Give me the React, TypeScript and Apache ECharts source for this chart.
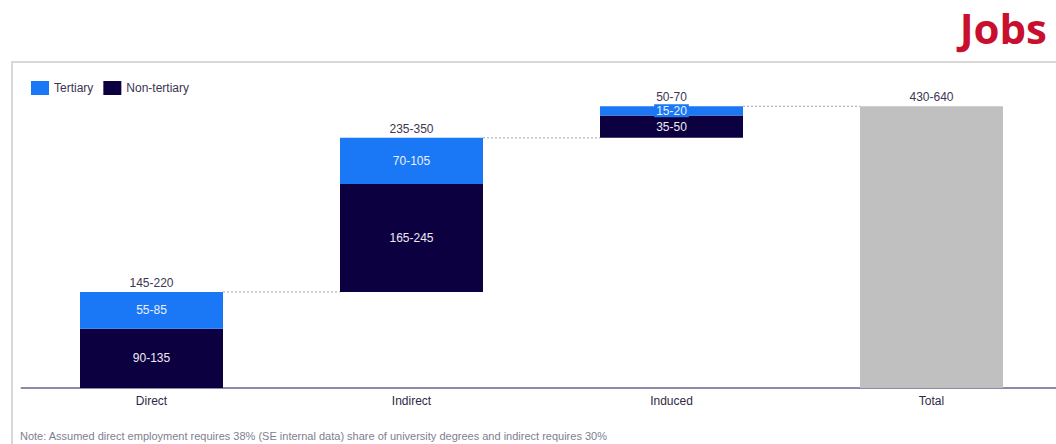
import React, { useEffect, useRef } from "react";
import * as echarts from "echarts";

const categories = ["Direct", "Indirect", "Induced", "Total"];
// midpoints of the ranges shown in the labels
const baseValues = [0, 182.5, 475, 0];
const nonTertiaryValues: (number | string)[] = [112.5, 205, 42.5, "-"];
const tertiaryValues: (number | string)[] = [70, 87.5, 17.5, "-"];
const totalValues: (number | string)[] = ["-", "-", "-", 535];
const nonTertiaryLabels = ["90-135", "165-245", "35-50", ""];
const tertiaryLabels = ["55-85", "70-105", "15-20", ""];
const topValues = [182.5, 475, 535, 535];
const topLabels = ["145-220", "235-350", "50-70", "430-640"];
const noteText =
  "Note: Assumed direct employment requires 38% (SE internal data) share of university degrees and indirect requires 30%";

const FONT = "'Liberation Sans', Arial, sans-serif";
const C_TER = "#1a78f6";
const C_NON = "#0c0040";
const C_TOT = "#c0c0c0";

export default function App() {
  const ref = useRef<HTMLDivElement>(null);
  useEffect(() => {
    document.body.style.margin = "0";
    document.body.style.overflow = "hidden";
    const chart = echarts.init(ref.current!, null, { renderer: "svg" });
    chart.setOption({
      animation: false,
      textStyle: { fontFamily: FONT },
      graphic: [
        {
          type: "rect",
          shape: { x: 12, y: 62, width: 1100, height: 500 },
          style: { fill: "none", stroke: "#d8d8d8", lineWidth: 2 },
          silent: true,
        },
        {
          type: "text",
          x: 1047,
          y: 6,
          style: {
            text: "Jobs",
            fill: "#c8102e",
            font: "bold 42px 'Open Sans', sans-serif",
            align: "right",
            verticalAlign: "top",
          },
        },
        {
          type: "text",
          left: 20,
          top: 430,
          style: {
            text: noteText,
            fill: "#7e7e90",
            font: `11px ${FONT}`,
          },
        },
      ],
      legend: {
        left: 26,
        top: 76,
        itemWidth: 18,
        itemHeight: 14,
        itemGap: 10,
        icon: "rect",
        data: ["Tertiary", "Non-tertiary"],
        textStyle: { color: "#3a3452", fontSize: 12, fontFamily: FONT },
      },
      grid: { left: 21.5, right: 4.5, top: 72, bottom: 56 },
      xAxis: {
        type: "category",
        data: categories,
        axisLine: { lineStyle: { color: "#8d89a8", width: 2 } },
        axisTick: { show: false },
        axisLabel: { color: "#2f2a45", fontSize: 12, margin: 7, fontFamily: FONT },
      },
      yAxis: {
        type: "value",
        min: 0,
        max: 600,
        show: false,
        splitLine: { show: false },
      },
      series: [
        {
          name: "base",
          type: "bar",
          stack: "a",
          barWidth: "55%",
          itemStyle: { color: "transparent" },
          silent: true,
          data: baseValues,
        },
        {
          name: "Non-tertiary",
          type: "bar",
          stack: "a",
          itemStyle: { color: C_NON },
          label: {
            show: true,
            position: "inside",
            color: "#ecebf4",
            fontSize: 12,
            fontFamily: FONT,
            formatter: (p: any) => nonTertiaryLabels[p.dataIndex],
          },
          data: nonTertiaryValues,
        },
        {
          name: "Tertiary",
          type: "bar",
          stack: "a",
          itemStyle: { color: C_TER },
          label: {
            show: true,
            position: "inside",
            color: "#ecf0fa",
            fontSize: 12,
            fontFamily: FONT,
            formatter: (p: any) => tertiaryLabels[p.dataIndex],
          },
          data: tertiaryValues.map((v, i) =>
            i === 2
              ? {
                  value: v,
                  label: { backgroundColor: C_TER, padding: [1, 2, 0, 2] },
                }
              : v
          ),
        },
        {
          name: "Total",
          type: "bar",
          stack: "a",
          itemStyle: { color: C_TOT },
          data: totalValues,
        },
        {
          name: "tops",
          type: "custom",
          z: 5,
          silent: true,
          data: topValues.map((v, i) => [i, v]),
          renderItem: (params: any, api: any) => {
            const i = api.value(0);
            const top = api.value(1);
            const p = api.coord([i, top]);
            const band = api.size([1, 0])[0];
            const children: any[] = [
              {
                type: "text",
                x: p[0],
                y: p[1] - 3,
                style: {
                  text: topLabels[params.dataIndex],
                  fill: "#3d3654",
                  font: `12px ${FONT}`,
                  align: "center",
                  verticalAlign: "bottom",
                },
              },
            ];
            if (i < categories.length - 1) {
              children.push({
                type: "line",
                shape: {
                  x1: p[0] + band * 0.275,
                  y1: p[1],
                  x2: p[0] + band * 0.725,
                  y2: p[1],
                },
                style: { stroke: "#a4a4ac", lineWidth: 1, lineDash: [2, 2] },
              });
            }
            return { type: "group", children };
          },
        },
      ],
    });
    return () => chart.dispose();
  }, []);
  return <div ref={ref} style={{ width: 1066, height: 444 }} />;
}
